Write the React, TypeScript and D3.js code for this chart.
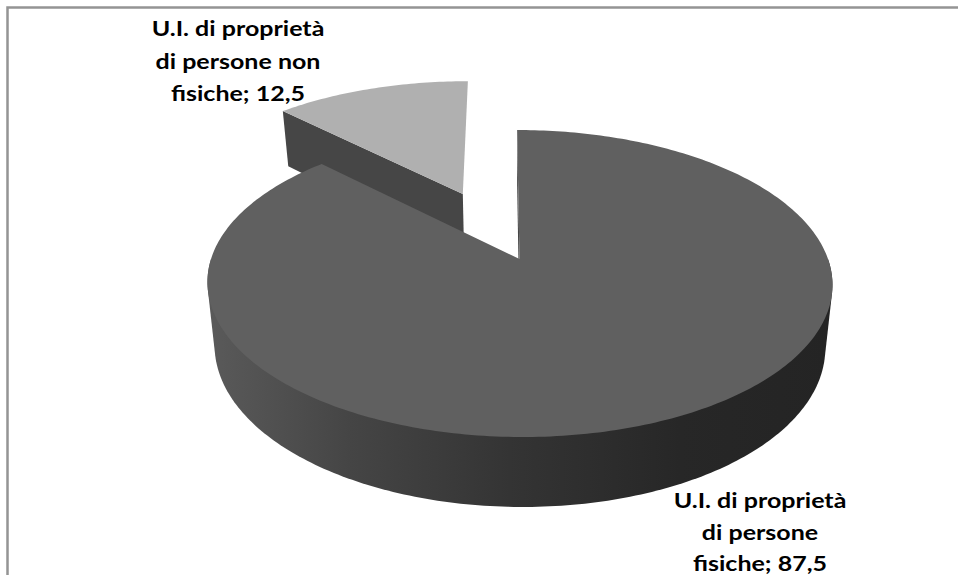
import React from "react";
import * as d3 from "d3";

const categories = ["U.I. di proprietà di persone fisiche", "U.I. di proprietà di persone non fisiche"];
const values = [87.5, 12.5];
const labelLines = [
  ["U.I. di proprietà", "di persone", "fisiche; 87,5"],
  ["U.I. di proprietà", "di persone non", "fisiche; 12,5"],
];
const labelCenters = [760, 238];
const labelBaselines = [[508, 540, 571], [36, 69, 101]];
const explode = [0, 0.505];
const topColors = ["#606060", "#b0b0b0"];
const cutColor = "#464646";
const wallStops = [
  [208, "#5a5a5a"],
  [350, "#454545"],
  [510, "#343434"],
  [680, "#272727"],
  [830, "#242424"],
] as [number, string][];

const W = 958, H = 575;
const cx = 519.5, cy = 259;
const persp = 0.1596, kx = 308.5, my = 149.6, shear = 0.0186;
const depth = 62.2, depthPersp = 0.111, baseScale = 0.977;

type Pt = [number, number];
// Plane (x, y; y far from viewer) to screen, on the top or the base of the pie
function project(x: number, y: number, base = false): Pt {
  const den = 1 + persp * y;
  const yt = (-my * y) / den;
  const xt = (kx * x) / den + shear * yt;
  if (!base) return [cx + xt, cy + yt];
  return [cx + baseScale * xt, cy + yt + depth / (1 + depthPersp * y)];
}

const pie = d3.pie<number>().sort(null).value((d) => d);
const arcs = pie(values);
const line = d3.line<Pt>();

function arcPts(i: number, a0: number, a1: number, base = false): Pt[] {
  const mid = (arcs[i].startAngle + arcs[i].endAngle) / 2;
  const ox = explode[i] * Math.sin(mid), oy = explode[i] * Math.cos(mid);
  const n = Math.max(8, Math.ceil(Math.abs(a1 - a0) * 60));
  return d3.range(n + 1).map((j) => {
    const a = a0 + ((a1 - a0) * j) / n;
    return project(ox + Math.sin(a), oy + Math.cos(a), base);
  });
}
function apex(i: number, base = false): Pt {
  const mid = (arcs[i].startAngle + arcs[i].endAngle) / 2;
  return project(explode[i] * Math.sin(mid), explode[i] * Math.cos(mid), base);
}
const closed = (pts: Pt[]) => line(pts)! + "Z";

export default function App() {
  const big = arcs[0], small = arcs[1];
  const bigTop = arcPts(0, big.startAngle, big.endAngle);
  const bigBase = arcPts(0, big.startAngle, big.endAngle, true);
  const smallTop = arcPts(1, small.startAngle, small.endAngle);
  const smallBase = arcPts(1, small.startAngle, small.endAngle, true);
  const hull = d3.polygonHull([
    ...arcPts(0, Math.PI / 2, (3 * Math.PI) / 2),
    ...arcPts(0, Math.PI / 2, (3 * Math.PI) / 2, true),
  ] as Pt[]) as Pt[];
  const x0 = wallStops[0][0], x1 = wallStops[wallStops.length - 1][0];
  return (
    <svg
      width={W}
      height={H}
      viewBox={`0 0 ${W} ${H}`}
      style={{ position: "absolute", left: 0, top: 0, background: "#fff" }}
    >
      <defs>
        <linearGradient id="wall" gradientUnits="userSpaceOnUse" x1={x0} x2={x1} y1={0} y2={0}>
          {wallStops.map(([x, c]) => (
            <stop key={x} offset={(x - x0) / (x1 - x0)} stopColor={c} />
          ))}
        </linearGradient>
      </defs>
      <path d={`M7.5,${H}V7.5H${W}`} fill="none" stroke="#949494" strokeWidth={2.5} />

      {/* exploded slice */}
      <path d={closed([smallTop[0], apex(1), apex(1, true), smallBase[0]])} fill={cutColor} />
      <path d={closed([apex(1), ...smallTop])} fill={topColors[1]} />

      {/* main slice */}
      <path d={closed(hull)} fill="url(#wall)" />
      <path d={closed([bigTop[0], apex(0), apex(0, true), bigBase[0]])} fill={cutColor} />
      <path d={closed([apex(0), ...bigTop])} fill={topColors[0]} />

      {labelLines.map((lines, i) => (
        <text
          key={categories[i]}
          transform={`translate(${labelCenters[i]},0) scale(1.22,1)`}
          textAnchor="middle"
          fontFamily="Lato, sans-serif"
          fontWeight={700}
          fontSize={20.5}
          fill="#000"
        >
          {lines.map((t, j) => (
            <tspan key={j} x={0} y={labelBaselines[i][j]}>
              {t}
            </tspan>
          ))}
        </text>
      ))}
    </svg>
  );
}
